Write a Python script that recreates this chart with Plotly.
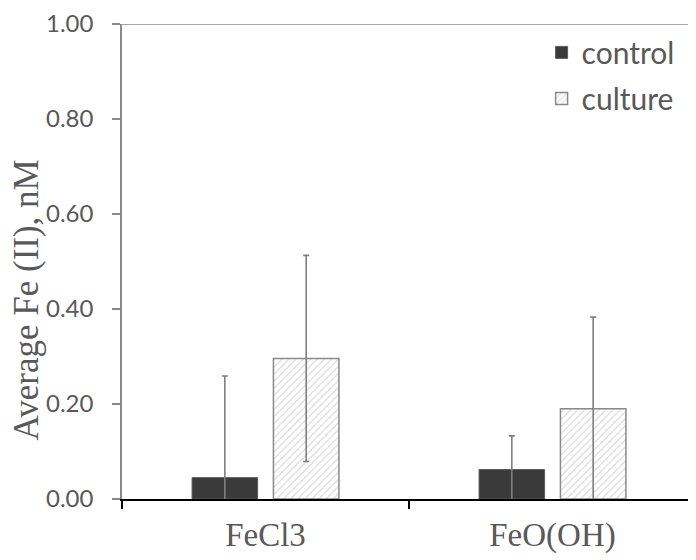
import plotly.graph_objects as go

categories = ["FeCl3", "FeO(OH)"]
control_vals = [0.045, 0.062]
control_err = [0.214, 0.071]
culture_vals = [0.296, 0.190]
culture_err = [0.217, 0.193]
ytick_vals = [0, 0.2, 0.4, 0.6, 0.8, 1.0]
ytick_text = ["0.00", "0.20", "0.40", "0.60", "0.80", "1.00"]
y_title = "Average Fe (II), nM"

err_style = dict(type="data", visible=True, color="#7f7f7f", thickness=1.6, width=3)

fig = go.Figure()
fig.add_trace(go.Bar(
    name="control", x=categories, y=control_vals, legendgroup="a",
    marker=dict(color="#3a3a3a", line=dict(color="#5a5a5a", width=1)),
    error_y=dict(array=control_err, **err_style),
))
fig.add_trace(go.Bar(
    name="culture", x=categories, y=culture_vals, legendgroup="b",
    marker=dict(color="white", line=dict(color="#8a8a8a", width=1.5),
                pattern=dict(shape="/", fgcolor="#b5b5b5", bgcolor="white", size=5, solidity=0.25)),
    error_y=dict(array=culture_err, **err_style),
))

fig.add_shape(type="line", xref="paper", yref="y", x0=0, x1=1, y0=1, y1=1,
              line=dict(color="#8a8a8a", width=1.5))

fig.add_annotation(text=y_title, textangle=-90, xref="paper", yref="paper",
                   x=0, y=0.418, xanchor="center", yanchor="middle", xshift=-96,
                   showarrow=False,
                   font=dict(family="Liberation Serif", size=35, color="#595959"))

fig.update_layout(
    width=688, height=552,
    margin=dict(l=114, r=0, t=8, b=61),
    paper_bgcolor="white", plot_bgcolor="white",
    barmode="group", bargap=0.433, bargroupgap=0.195,
    showlegend=True,
    legend=dict(x=0.731, y=0.995, xanchor="left", yanchor="top",
                font=dict(family="Lato", size=30, color="#595959"),
                traceorder="grouped", tracegroupgap=4, bgcolor="rgba(0,0,0,0)"),
    xaxis=dict(type="category", showline=True, linecolor="black", linewidth=1.5,
               ticks="outside", tickson="boundaries", ticklen=8, tickcolor="black", tickwidth=1.5,
               tickfont=dict(family="Liberation Serif", size=33, color="#595959"),
               ticklabelstandoff=6,
               showgrid=False, zeroline=False),
    yaxis=dict(range=[0, 1], tickvals=ytick_vals, ticktext=ytick_text,
               showline=True, linecolor="#8a8a8a", linewidth=1.5,
               ticks="outside", ticklen=8, tickcolor="#8a8a8a", tickwidth=1.5,
               tickfont=dict(family="Lato", size=24, color="#595959"),
               ticklabelstandoff=14, ticklabeloverflow="allow",
               showgrid=False, zeroline=False),
)

fig.write_html("out.html")
